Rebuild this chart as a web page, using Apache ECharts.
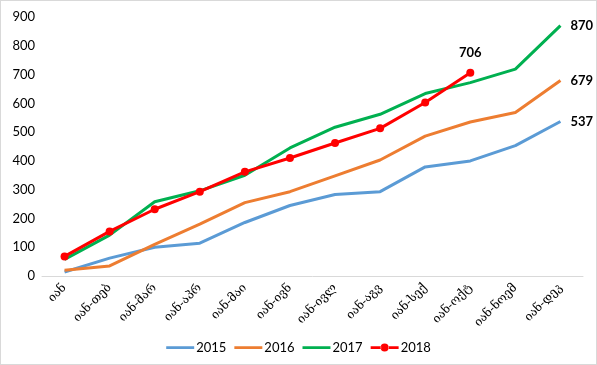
<!DOCTYPE html>
<html><head><meta charset="utf-8">
<script src="https://cdn.jsdelivr.net/npm/echarts@6/dist/echarts.min.js"></script>
<style>html,body{margin:0;padding:0;background:#fff}#c{width:595px;height:363px;border:1px solid #d9d9d9}</style>
</head><body><div id="c"></div>
<script>
const categories = ['იან','იან-თებ','იან-მარ','იან-აპრ','იან-მაი','იან-ივნ','იან-ივლ','იან-აგვ','იან-სექ','იან-ოქტ','იან-ნოემ','იან-დეკ'];
const s2015 = [14, 62, 100, 114, 186, 245, 283, 293, 379, 400, 453, 537];
const s2016 = [20, 35, 110, 180, 255, 293, 348, 403, 486, 535, 568, 679];
const s2017 = [58, 142, 258, 296, 350, 445, 517, 562, 634, 672, 719, 870];
const s2018 = [68, 155, 232, 293, 362, 410, 462, 513, 603, 706];
const yTicks = {min: 0, max: 900, interval: 100};

const chart = echarts.init(document.getElementById('c'));
const lblFont = {color: '#000', fontWeight: 'bold', fontSize: 13, fontFamily: 'Lato, sans-serif'};
const lineIcon = 'path://M0,0h0.01v0.01h-0.01z M0,3.8h28v2.6h-28z M0,10h0.01v0.01h-0.01z';
const dotIcon = 'path://M0,0h0.01v0.01h-0.01z M0,3.8h10.5v2.6h-10.5z M17.5,3.8h10.5v2.6h-10.5z M10,5.1a4,4 0 1,0 8,0a4,4 0 1,0 -8,0z M0,10h0.01v0.01h-0.01z';
function mk(name, data, color) {
  return {
    name, type: 'line', data, showSymbol: false, symbol: 'none',
    lineStyle: {width: 3, color}, itemStyle: {color},
    endLabel: Object.assign({show: true, distance: 10}, lblFont)
  };
}
chart.setOption({
  animation: false,
  grid: {left: 41, right: 13, top: 16, bottom: 88},
  legend: {
    bottom: 5, left: 'center', itemWidth: 28, itemHeight: 10, itemGap: 8,
    textStyle: {color: '#000', fontSize: 13, fontFamily: 'Lato, sans-serif', padding: [0, 0, 0, -3]},
    data: [
      {name: '2015', icon: lineIcon},
      {name: '2016', icon: lineIcon},
      {name: '2017', icon: lineIcon},
      {name: '2018', icon: dotIcon}
    ]
  },
  xAxis: {
    type: 'category', data: categories, boundaryGap: true,
    axisLine: {lineStyle: {color: '#d9d9d9'}}, axisTick: {show: false},
    axisLabel: {rotate: 45, interval: 0, color: '#000', fontSize: 12, fontFamily: 'DejaVu Serif, DejaVu Sans, serif', margin: 10}
  },
  yAxis: {
    type: 'value', min: yTicks.min, max: yTicks.max, interval: yTicks.interval,
    splitLine: {show: false}, axisLine: {show: false}, axisTick: {show: false},
    axisLabel: {color: '#000', fontSize: 13, fontFamily: 'Lato, sans-serif', margin: 7}
  },
  series: [
    mk('2015', s2015, '#5b9bd5'),
    mk('2016', s2016, '#ed7d31'),
    mk('2017', s2017, '#00b050'),
    {
      name: '2018', type: 'line', data: s2018, showSymbol: true, symbol: 'circle', symbolSize: 8,
      lineStyle: {width: 3, color: '#ff0000'}, itemStyle: {color: '#ff0000'},
      label: Object.assign({show: true, position: 'top', distance: 10,
        formatter: p => p.dataIndex === s2018.length - 1 ? p.value : ''}, lblFont)
    }
  ]
});
</script></body></html>
